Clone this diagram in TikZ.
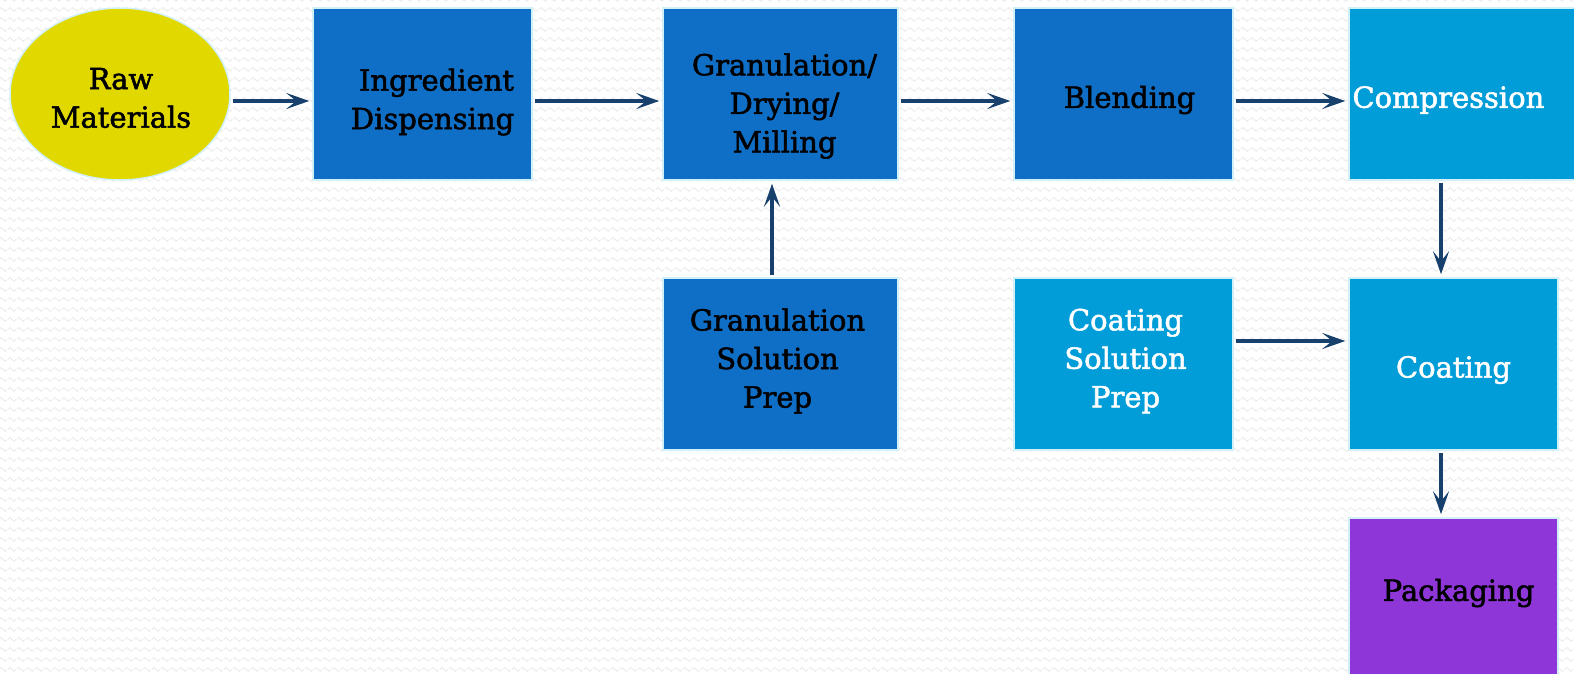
\documentclass[tikz,border=0pt]{standalone}
\usepackage{fontspec}
\setmainfont{DejaVu Serif}[FakeBold=1.8]
\usetikzlibrary{arrows.meta,shapes.geometric,patterns.meta}
\definecolor{darkbox}{HTML}{0F6FC6}
\definecolor{lightbox}{HTML}{009DD9}
\definecolor{purplebox}{HTML}{8E36D8}
\definecolor{rawyellow}{HTML}{E1D800}
\definecolor{edgecyan}{HTML}{D2F0F8}
\definecolor{arrownavy}{HTML}{17406D}
\definecolor{wavegray}{HTML}{EDEDED}
\tikzdeclarepattern{
  name=bgwaves,
  type=uncolored,
  bottom left={(0pt,0pt)},
  top right={(9pt,10pt)},
  tile size={(9pt,10pt)},
  code={
    \draw[line width=1.1pt] (0pt,5pt) sin (2.25pt,7pt) cos (4.5pt,5pt)
      sin (6.75pt,3pt) cos (9pt,5pt);
  }
}
\tikzset{
  boxtext/.style={align=center, font=\fontsize{29}{38.5}\selectfont, inner sep=0pt},
  stepbox/.style={rectangle, draw=edgecyan, line width=1.5pt, inner sep=0pt,
    minimum height=172pt},
  darkstep/.style={stepbox, fill=darkbox},
  lightstep/.style={stepbox, fill=lightbox},
  darktext/.style={boxtext, text=black},
  lighttext/.style={boxtext, text=white},
  arr/.style={draw=arrownavy, line width=3.4pt,
    -{Stealth[length=23pt,width=16pt,inset=10pt]}, shorten <=2pt, shorten >=3pt}
}
\begin{document}
\begin{tikzpicture}[x=1pt,y=-1pt]
\clip (0,0) rectangle (1574,673);
\fill[white] (0,0) rectangle (1574,673);
\fill[pattern=bgwaves, pattern color=wavegray] (0,0) rectangle (1574,673);
% nodes
\node[ellipse, draw=edgecyan, line width=1.5pt, fill=rawyellow, inner sep=0pt,
  minimum width=220pt, minimum height=172pt,
  label={[darktext, xshift=1pt, yshift=-4pt]center:{Raw\\Materials}}] (raw) at (120,94) {};
\node[darkstep, minimum width=219pt,
  label={[darktext, xshift=10pt, yshift=-8pt]center:{\hspace*{8pt}Ingredient\\Dispensing}}] (ing) at (422.5,94) {};
\node[darkstep, minimum width=235pt,
  label={[darktext, xshift=4pt, yshift=-12pt]center:{Granulation/\\Drying/\\Milling}}] (gran) at (780.5,94) {};
\node[darkstep, minimum width=219pt,
  label={[darktext, xshift=6pt, yshift=-6pt]center:{Blending}}] (blend) at (1123.5,94) {};
\node[lightstep, minimum width=241pt,
  label={[lighttext, anchor=west, yshift=-6pt]west:{\hspace*{4pt}Compression}}] (comp) at (1469.5,94) {};
\node[darkstep, minimum width=235pt,
  label={[darktext, xshift=-3pt, yshift=3pt]center:{Granulation\\Solution\\Prep}}] (gsol) at (780.5,364) {};
\node[lightstep, minimum width=219pt,
  label={[lighttext, xshift=2pt, yshift=3pt]center:{Coating\\Solution\\Prep}}] (csol) at (1123.5,364) {};
\node[lightstep, minimum width=209pt,
  label={[lighttext, yshift=-6pt]center:{Coating}}] (coat) at (1453.5,364) {};
\node[stepbox, fill=purplebox, minimum width=209pt, minimum height=164pt,
  label={[darktext, xshift=5pt, yshift=7pt]center:{Packaging}}] (pack) at (1453.5,600) {};
% connectors
\draw[arr] ([yshift=-7pt]raw.east) -- ([yshift=-7pt]raw.east -| ing.west);
\draw[arr] ([yshift=-7pt]ing.east) -- ([yshift=-7pt]ing.east -| gran.west);
\draw[arr] ([yshift=-7pt]gran.east) -- ([yshift=-7pt]gran.east -| blend.west);
\draw[arr] ([yshift=-7pt]blend.east) -- ([yshift=-7pt]blend.east -| comp.west);
\draw[arr] ([xshift=-12.5pt]coat.north |- comp.south) -- ([xshift=-12.5pt]coat.north);
\draw[arr] ([xshift=-8.5pt]gsol.north) -- ([xshift=-8.5pt]gsol.north |- gran.south);
\draw[arr] ([yshift=23pt]csol.east) -- ([yshift=23pt]csol.east -| coat.west);
\draw[arr] ([xshift=-12.5pt]coat.south) -- ([xshift=-12.5pt]coat.south |- pack.north);
\end{tikzpicture}
\end{document}
